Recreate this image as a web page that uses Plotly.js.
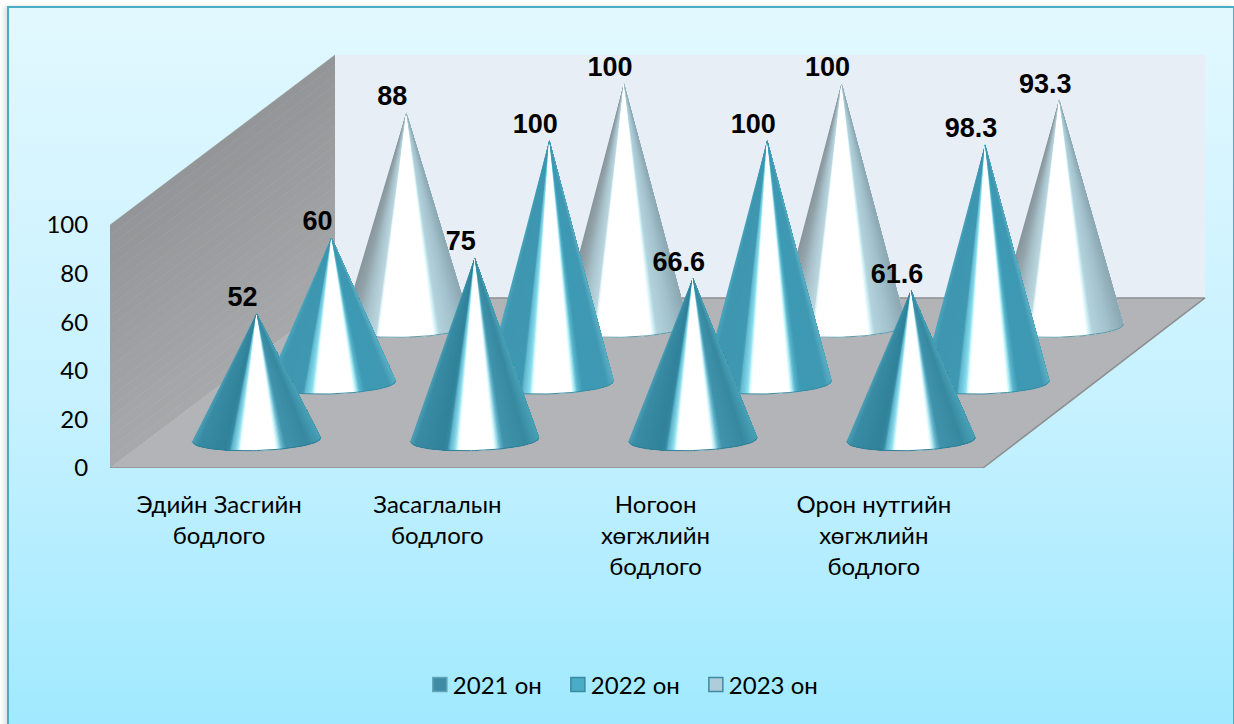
<!DOCTYPE html>
<html><head><meta charset="utf-8">
<script src="https://cdn.plot.ly/plotly-3.0.0.min.js"></script>
<style>
html,body{margin:0;padding:0;background:#fff;width:1234px;height:724px;overflow:hidden}
#frame{position:absolute;left:7px;top:6px;width:1224px;height:730px;border:2px solid #4bacc6;box-shadow:-3px 0 4px rgba(0,0,0,.12);
background:linear-gradient(180deg,#e2f8ff 0%,#c6f1ff 55%,#9fe9ff 100%)}
#plot{position:absolute;left:0;top:0;width:1234px;height:724px}
</style></head><body>
<div id="frame"></div><div id="plot"></div>
<script>
const categories=["Эдийн Засгийн<br>бодлого","Засаглалын<br>бодлого","Ногоон<br>хөгжлийн<br>бодлого","Орон нутгийн<br>хөгжлийн<br>бодлого"];
const seriesNames=["2021 он","2022 он","2023 он"];
const values2021=[52,75,66.6,61.6];
const values2022=[60,100,100,98.3];
const values2023=[88,100,100,93.3];
const labels2021=["52","75","66.6","61.6"];
const labels2022=["60","100","100","98.3"];
const labels2023=["88","100","100","93.3"];
const yTicks=[0,20,40,60,80,100];

const allValues=[values2021,values2022,values2023];
const allLabels=[labels2021,labels2022,labels2023];
const depths=[1/6,1/2,5/6];
const FONT='Lato, "Noto Sans", sans-serif';

// oblique projection of the chart's 3D box on the plain 2D axes
function px(cat,depth){return -0.5+(cat+0.5)*(1-0.0035*depth)+1.031*depth;}
function py(val,depth){return val+70*depth;}

const RX=0.295, RY=4.5, TILT=0.8, SLICES=90;

const ramps=[
 [[0,'#4a9db4'],[.04,'#388ca4'],[.25,'#31829a'],[.29,'#358aa3'],[.30,'#5aaec6'],[.345,'#8adcec'],[.37,'#e6fdff'],[.385,'#ffffff'],[.645,'#ffffff'],[.665,'#c8f4fa'],[.70,'#5fb2c8'],[.73,'#3f93ab'],[.9,'#37899f'],[1,'#48a0b6']],
 [[0,'#4aa5bc'],[.05,'#3f97b0'],[.28,'#3f98b2'],[.295,'#62b8cf'],[.345,'#88dcee'],[.365,'#d8fcff'],[.38,'#ffffff'],[.67,'#ffffff'],[.69,'#b8f4fa'],[.72,'#58b4cb'],[.76,'#3e9ab4'],[.95,'#3f99b2'],[1,'#5aaec4']],
 [[0,'#87969d'],[.08,'#93a3aa'],[.17,'#a8c2cc'],[.265,'#bcd7e0'],[.275,'#e8f9fb'],[.29,'#ffffff'],[.71,'#ffffff'],[.73,'#d4f4f8'],[.76,'#b2d2dc'],[.88,'#a2c1cc'],[1,'#8ca8b2']]
];
const rimColors=['#2f7f96','#3a8ca3','#5f9aa8'];
const legendFill=['#3f8ca5','#4aacc6','#aeccd9'];
const legendLine=['#5fa5b5','#3a8aa0','#3f8aa0'];

function hex(c){return [1,3,5].map(i=>parseInt(c.slice(i,i+2),16));}
function ramp(r,t){
  for(let i=1;i<r.length;i++){
    if(t<=r[i][0]){
      const f=(t-r[i-1][0])/(r[i][0]-r[i-1][0]),a=hex(r[i-1][1]),b=hex(r[i][1]);
      return 'rgb('+a.map((v,k)=>Math.round(v+(b[k]-v)*f)).join(',')+')';
    }
  }
  return r[r.length-1][1];
}
// point on the front half of a cone's base ellipse; u runs -1..1 from left to right
function rimX(cx,u){return cx+RX*u;}
function rimY(by,u){return by-RY*Math.sqrt(Math.max(0,1-u*u))+TILT*u;}

const traces=[];
function poly(x,y,color,line,lw){
  traces.push({type:'scatter',mode:'lines',x,y,fill:'toself',fillcolor:color,
    line:{color:line||color,width:lw===undefined?0:lw},hoverinfo:'skip',showlegend:false});
}
// left wall in fine bands (a soft vertical gradient), back wall, floor
const WALL_STEPS=24;
for(let i=0;i<WALL_STEPS;i++){
  const v=100*i/WALL_STEPS,w=100*(i+1)/WALL_STEPS,g=Math.round(166-(i/(WALL_STEPS-1))*19);
  const c='rgb('+g+','+(g+2)+','+(g+4)+')';
  poly([px(-.5,0),px(-.5,1),px(-.5,1),px(-.5,0)],[py(v,0),py(v,1),py(w,1),py(w,0)],c,c,.5);
}
poly([px(-.5,1),px(3.5,1),px(3.5,1),px(-.5,1)],[py(0,1),py(0,1),py(100,1),py(100,1)],'#e8eef6');
poly([px(-.5,0),px(3.5,0),px(3.5,1),px(-.5,1)],[py(0,0),py(0,0),py(0,1),py(0,1)],'#b2b4b7');
traces.push({type:'scatter',mode:'lines',hoverinfo:'skip',showlegend:false,line:{color:'#8d8e90',width:1.5},
  x:[px(-.5,1),px(3.5,1),px(3.5,0),px(-.5,0)],
  y:[py(0,1),py(0,1),py(0,0),py(0,0)]});

// cones, back row first; each colour step repaints from its own left edge to the
// cone's right edge, so no seam can open between neighbouring steps
for(let s=2;s>=0;s--){
  const d=depths[s],vals=allValues[s];
  for(let k=0;k<SLICES;k++){
    const col=ramp(ramps[s],(k+.5)/SLICES);
    const xs=[],ys=[];
    vals.forEach((v,i)=>{
      const cx=px(i,d),by=py(0,d);
      xs.push(cx);ys.push(by+v);
      for(let q=k;q<=SLICES;q+=(q<SLICES-3&&q>2?2:1)){
        const u=2*q/SLICES-1;
        xs.push(rimX(cx,u));ys.push(rimY(by,u));
      }
      xs.push(rimX(cx,1),cx,null);ys.push(rimY(by,1),by+v,null);
    });
    traces.push({type:'scatter',mode:'lines',x:xs,y:ys,fill:'toself',fillcolor:col,
      line:{color:col,width:0},hoverinfo:'skip',showlegend:false});
  }
  const rx=[],ry=[];
  vals.forEach((v,i)=>{
    const cx=px(i,d),by=py(0,d);
    for(let q=0;q<=40;q++){const u=-1+q/20;rx.push(rimX(cx,u));ry.push(rimY(by,u));}
    rx.push(null);ry.push(null);
  });
  traces.push({type:'scatter',mode:'lines',x:rx,y:ry,line:{color:rimColors[s],width:1},hoverinfo:'skip',showlegend:false});
}
// data labels
for(let s=2;s>=0;s--){
  const d=depths[s];
  traces.push({type:'scatter',mode:'text',hoverinfo:'skip',showlegend:false,cliponaxis:false,
    x:allValues[s].map((v,i)=>px(i,d)-0.064),
    y:allValues[s].map(v=>py(v,d)+5.7),
    text:allLabels[s],textposition:'middle center',
    textfont:{family:'"Liberation Sans",Arial,sans-serif',size:27,color:'#000',weight:700}});
}
// legend entries
seriesNames.forEach((n,s)=>{
  traces.push({type:'scatter',mode:'markers',name:n,x:[null],y:[null],hoverinfo:'skip',
    marker:{symbol:'square',size:14,color:legendFill[s],line:{color:legendLine[s],width:1.5}}});
});

const layout={
  width:1234,height:724,paper_bgcolor:'rgba(0,0,0,0)',plot_bgcolor:'rgba(0,0,0,0)',
  margin:{l:110,r:24,t:55,b:256,pad:0},hovermode:false,
  font:{family:FONT,size:24,color:'#000'},
  xaxis:{range:[-0.5,4.54],tickmode:'array',tickvals:[0,1,2,3],ticktext:categories,showgrid:false,zeroline:false,showline:false,
    ticks:'outside',ticklen:15,tickcolor:'rgba(0,0,0,0)',tickfont:{family:FONT,size:24,color:'#000'},tickangle:0,fixedrange:true},
  yaxis:{range:[0,170],tickmode:'array',tickvals:yTicks,showgrid:false,zeroline:false,showline:false,
    ticks:'outside',ticklen:16,tickcolor:'rgba(0,0,0,0)',tickfont:{family:FONT,size:24,color:'#000'},fixedrange:true},
  legend:{orientation:'h',x:0.4635,xanchor:'center',y:-0.525,yanchor:'middle',font:{family:FONT,size:24,color:'#000'},
    bgcolor:'rgba(0,0,0,0)',entrywidth:93,entrywidthmode:'pixels',itemclick:false,itemdoubleclick:false},
  showlegend:true
};
Plotly.newPlot('plot',traces,layout,{displayModeBar:false,staticPlot:true}).then(()=>{
  document.querySelectorAll('#plot .legendsymbols').forEach(g=>g.setAttribute('transform','translate(7,0)'));
});
</script>
</body></html>
